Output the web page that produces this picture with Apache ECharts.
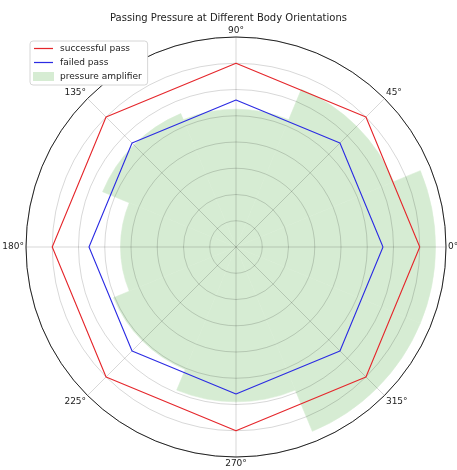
<!DOCTYPE html>
<html>
<head>
<meta charset="utf-8">
<script src="https://cdn.jsdelivr.net/npm/echarts@6/dist/echarts.min.js"></script>
<style>
  html, body { margin: 0; padding: 0; background: #fff; }
  #chart { width: 457px; height: 470px; }
</style>
</head>
<body>
<div id="chart"></div>
<script>
// 方向角（度）
const angles = [0, 45, 90, 135, 180, 225, 270, 315]
const angleNames = ['0°', '45°', '90°', '135°', '180°', '225°', '270°', '315°']
// 各方向的数值
const successfulPass = [7, 7, 7, 7, 7, 7, 7, 7]
const failedPass = [5.6, 5.6, 5.6, 5.6, 5.6, 5.6, 5.6, 5.6]
const pressureAmplifier = [7.6, 6.5, 5.25, 5.5, 4.4, 5.05, 5.9, 7.6]
const radiusMax = 8

// 折线首尾相连
function closedLine(values) {
  const pts = angles.map((a, i) => [values[i], a])
  pts.push([values[0], 360])
  return pts
}

const font = 'DejaVu Sans'
const center = [236, 247]
const red = '#e5262b'
const blue = '#2b2be3'
const green = '#d6ecd3'
const lineIcon = 'path://M0,0H20V1.3H0Z' // 图例里的细线

const option = {
  animation: false,
  textStyle: { fontFamily: font },
  title: {
    text: 'Passing Pressure at Different Body Orientations',
    left: 'center',
    top: 8,
    textStyle: { fontSize: 10, fontWeight: 'normal', color: '#222', fontFamily: font },
  },
  legend: {
    orient: 'vertical',
    left: 30,
    top: 41,
    padding: [3, 6, 4, 3],
    itemWidth: 19,
    itemHeight: 7,
    itemGap: 5,
    backgroundColor: '#fff',
    borderColor: '#d6d6d6',
    borderWidth: 1,
    borderRadius: 3,
    textStyle: { fontSize: 9, color: '#222', fontFamily: font, padding: [0, 0, 0, 2] },
    data: [
      { name: 'successful pass', icon: lineIcon, itemStyle: { color: red } },
      { name: 'failed pass', icon: lineIcon, itemStyle: { color: blue } },
      { name: 'pressure amplifier', icon: 'rect', itemStyle: { color: green } },
    ],
  },
  // 两个重叠的极坐标：0 放柱子，1 放折线和网格
  polar: [
    { center: center, radius: 210 },
    { center: center, radius: 210 },
  ],
  angleAxis: [
    {
      polarIndex: 0,
      type: 'category',
      data: angleNames,
      startAngle: -22.5,
      clockwise: false,
      show: false,
    },
    {
      polarIndex: 1,
      type: 'value',
      min: 0,
      max: 360,
      interval: 45,
      startAngle: 0,
      clockwise: false,
      z: 3,
      axisLine: { lineStyle: { color: '#222', width: 1 } },
      axisTick: { show: false },
      axisLabel: {
        margin: 2,
        fontSize: 9,
        color: '#222',
        fontFamily: font,
        formatter: (v) => (v === 360 ? '' : v + '°'),
      },
      splitLine: { lineStyle: { color: 'rgba(0,0,0,0.2)', width: 0.8 } },
    },
  ],
  radiusAxis: [
    { polarIndex: 0, type: 'value', min: 0, max: radiusMax, show: false },
    {
      polarIndex: 1,
      type: 'value',
      min: 0,
      max: radiusMax,
      interval: 1,
      z: 3,
      axisLine: { show: false },
      axisTick: { show: false },
      axisLabel: { show: false },
      splitLine: { lineStyle: { color: 'rgba(0,0,0,0.2)', width: 0.8 } },
    },
  ],
  series: [
    {
      name: 'pressure amplifier',
      type: 'bar',
      coordinateSystem: 'polar',
      polarIndex: 0,
      barCategoryGap: '0%',
      z: 1,
      itemStyle: { color: green, borderColor: green, borderWidth: 0.6 },
      data: pressureAmplifier,
    },
    {
      name: 'successful pass',
      type: 'line',
      coordinateSystem: 'polar',
      polarIndex: 1,
      symbol: 'none',
      z: 5,
      itemStyle: { color: red },
      lineStyle: { color: red, width: 1.1 },
      data: closedLine(successfulPass),
    },
    {
      name: 'failed pass',
      type: 'line',
      coordinateSystem: 'polar',
      polarIndex: 1,
      symbol: 'none',
      z: 5,
      itemStyle: { color: blue },
      lineStyle: { color: blue, width: 1.1 },
      data: closedLine(failedPass),
    },
  ],
}
echarts.init(document.getElementById('chart')).setOption(option)
</script>
</body>
</html>
